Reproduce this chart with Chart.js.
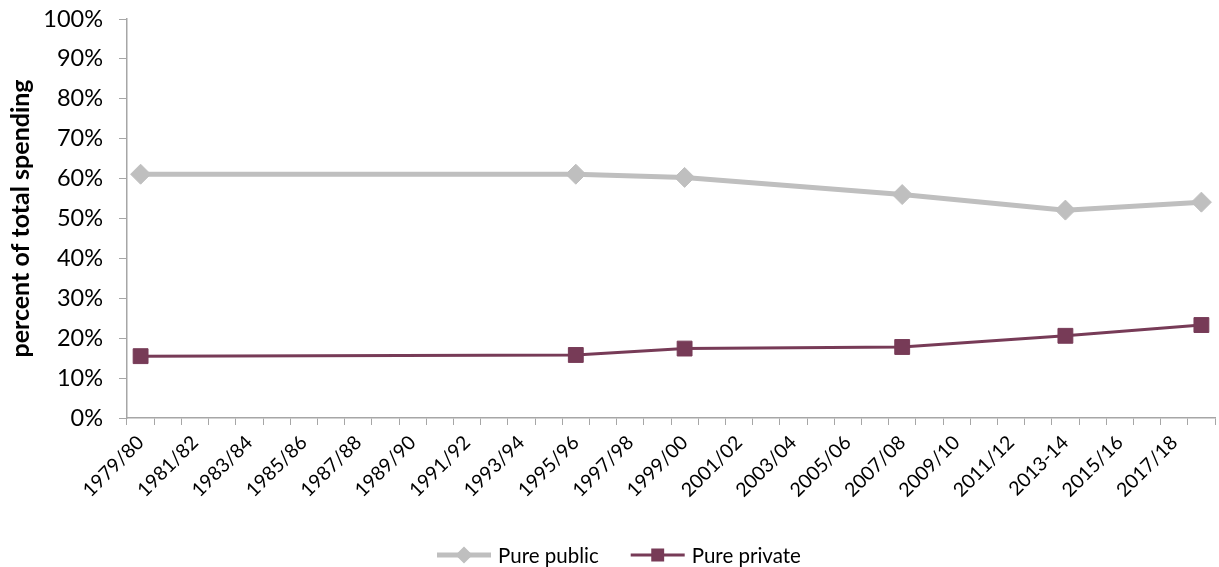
<!DOCTYPE html>
<html>
<head>
<meta charset="utf-8">
<script src="https://cdn.jsdelivr.net/npm/chart.js@4.4.1/dist/chart.umd.min.js"></script>
<style>
  body { margin: 0; background: #fff; }
  canvas { display: block; }
</style>
</head>
<body>
<canvas id="chart" width="1219" height="567"></canvas>
<script>
// one category per financial year, 1979/80 .. 2018/19
const years = [
  '1979/80', '1980/81', '1981/82', '1982/83', '1983/84', '1984/85', '1985/86', '1986/87',
  '1987/88', '1988/89', '1989/90', '1990/91', '1991/92', '1992/93', '1993/94', '1994/95',
  '1995/96', '1996/97', '1997/98', '1998/99', '1999/00', '2000/01', '2001/02', '2002/03',
  '2003/04', '2004/05', '2005/06', '2006/07', '2007/08', '2008/09', '2009/10', '2010/11',
  '2011/12', '2012/13', '2013-14', '2014/15', '2015/16', '2016/17', '2017/18', '2018/19'
];

// survey years that actually have observations
const surveyYears = ['1979/80', '1995/96', '1999/00', '2007/08', '2013-14', '2018/19'];
const purePublic = [61.1, 61.1, 60.3, 56.0, 52.1, 54.1];
const purePrivate = [15.5, 15.8, 17.4, 17.8, 20.6, 23.3];

const yTicks = [0, 10, 20, 30, 40, 50, 60, 70, 80, 90, 100];

const publicColor = '#BFBFBF';
const privateColor = '#773B57';
const axisColor = '#A6A6A6';
const fontFamily = 'Lato, "Open Sans", sans-serif';

function spread(values) {
  const out = years.map(() => null);
  surveyYears.forEach((y, i) => { out[years.indexOf(y)] = values[i]; });
  return out;
}

// Excel-style legend: short line with the marker in the middle, then the name
const lineLegend = {
  id: 'lineLegend',
  afterDraw(chart) {
    const ctx = chart.ctx;
    const lineLen = 54, gapText = 7, gapItem = 32;
    ctx.save();
    ctx.font = '20.5px ' + fontFamily;
    ctx.textBaseline = 'middle';
    let x = 437;
    const y = 555;
    chart.data.datasets.forEach(ds => {
      ctx.strokeStyle = ds.borderColor;
      ctx.lineWidth = ds.borderWidth;
      ctx.beginPath();
      ctx.moveTo(x, y);
      ctx.lineTo(x + lineLen, y);
      ctx.stroke();
      Chart.helpers.drawPoint(ctx, {
        pointStyle: ds.pointStyle,
        radius: ds.legendRadius,
        borderWidth: 1
      }, x + lineLen / 2, y);
      ctx.fillStyle = ds.borderColor;
      ctx.fill();
      ctx.fillStyle = '#000';
      ctx.fillText(ds.label, x + lineLen + gapText, y + 1);
      x += lineLen + gapText + ctx.measureText(ds.label).width + gapItem;
    });
    ctx.restore();
  }
};

new Chart(document.getElementById('chart').getContext('2d'), {
  type: 'line',
  data: {
    labels: years,
    datasets: [
      {
        label: 'Pure public',
        data: spread(purePublic),
        borderColor: publicColor,
        backgroundColor: publicColor,
        borderWidth: 5,
        pointStyle: 'rectRot',
        pointRadius: 10,
        pointBorderWidth: 1,
        legendRadius: 5,
        spanGaps: true,
        tension: 0
      },
      {
        label: 'Pure private',
        data: spread(purePrivate),
        borderColor: privateColor,
        backgroundColor: privateColor,
        borderWidth: 3,
        pointStyle: 'rect',
        pointRadius: 10.5,
        pointBorderWidth: 1,
        legendRadius: 7,
        spanGaps: true,
        tension: 0
      }
    ]
  },
  options: {
    responsive: false,
    animation: false,
    layout: { autoPadding: false, padding: { top: 19, right: 4, left: 0, bottom: 0 } },
    plugins: {
      legend: { display: false },
      tooltip: { enabled: false }
    },
    scales: {
      x: {
        type: 'category',
        offset: true,
        afterFit: scale => {
          scale.height = 149;
          scale.paddingLeft = 0;
          scale.paddingRight = 0;
        },
        grid: {
          offset: true,
          drawOnChartArea: false,
          drawTicks: true,
          tickLength: 7,
          color: axisColor
        },
        border: { color: axisColor, width: 1.5 },
        ticks: {
          autoSkip: false,
          minRotation: 45,
          maxRotation: 45,
          padding: 6,
          color: '#000',
          font: { family: fontFamily, size: 19.5 },
          callback: (val, i) => (i % 2 === 0 ? years[i] : '')
        }
      },
      y: {
        min: 0,
        max: 100,
        afterFit: scale => {
          scale.width = 127;
          scale.paddingTop = 0;
          scale.paddingBottom = 0;
        },
        afterBuildTicks: scale => { scale.ticks = yTicks.map(v => ({ value: v })); },
        grid: {
          drawOnChartArea: false,
          drawTicks: true,
          tickLength: 8,
          color: axisColor
        },
        border: { color: axisColor, width: 1.5 },
        ticks: {
          padding: 16,
          color: '#000',
          font: { family: fontFamily, size: 23.5 },
          callback: v => v + '%'
        },
        title: {
          display: true,
          text: 'percent of total spending',
          color: '#000',
          padding: { top: 6, bottom: 4 },
          font: { family: fontFamily, size: 25, weight: 'bold' }
        }
      }
    }
  },
  plugins: [lineLegend]
});
</script>
</body>
</html>
